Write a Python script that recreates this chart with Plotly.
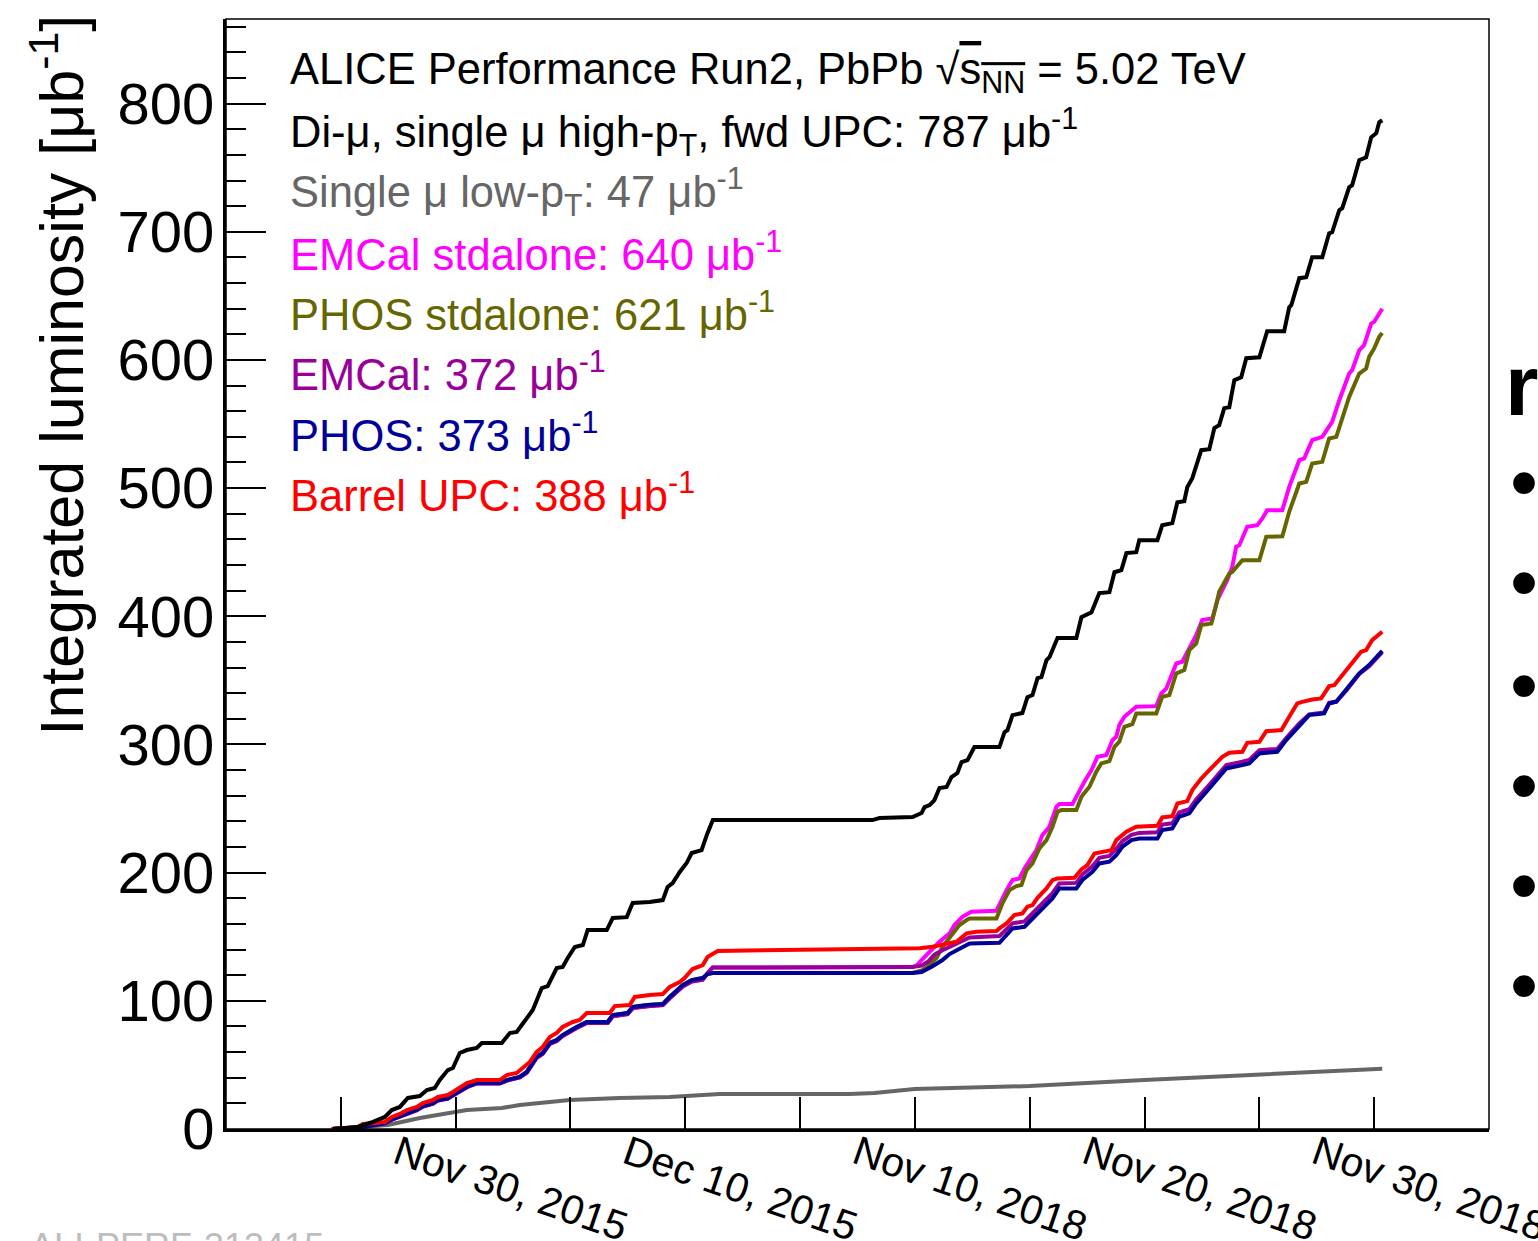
import plotly.graph_objects as go

# ---------------- data (x = run-day on the stitched time axis, y = integrated luminosity in ub^-1)
tick_days = [0, 5, 10, 15, 20, 25, 30, 35, 40, 45, 50, 55]
tick_text = ["", "", "Nov 30, 2015", "", "Dec 10, 2015", "", "Nov 10, 2018", "",
             "Nov 20, 2018", "", "Nov 30, 2018", ""]
y_ticks = [0, 100, 200, 300, 400, 500, 600, 700, 800]

dimu_day = [4.66, 5.74, 6.40, 6.92, 7.22, 7.57, 7.92, 8.44, 8.75, 9.09, 9.31, 9.66, 9.88, 10.18, 10.49,
            10.92, 11.14, 12.01, 12.36, 12.66, 12.88, 13.14, 13.36, 13.75, 14.01, 14.40, 14.66, 14.88,
            15.19, 15.54, 15.75, 16.58, 16.84, 17.45, 17.71, 18.45, 19.02, 19.23, 19.45, 19.76, 20.06,
            20.28, 20.71, 20.95, 21.20,
            27.59, 28.15, 28.46, 29.33, 29.90, 30.29, 30.42, 30.64, 30.85, 31.07, 31.38, 31.59, 31.85,
            32.03, 32.29, 32.59, 33.68, 33.90, 34.03, 34.25, 34.68, 34.90, 35.12, 35.34, 35.51, 35.73,
            35.86, 36.21, 37.03, 37.25, 37.69, 38.03, 38.47, 38.69, 38.99, 39.21, 39.64, 39.77, 40.56,
            40.77, 41.21, 41.43, 41.73, 41.86, 42.08, 42.47, 42.82, 43.04, 43.25, 43.47, 43.69, 43.91,
            44.21, 44.43, 45.00, 45.34, 46.08, 46.30, 46.39, 46.74, 47.04, 47.30, 47.74, 48.04, 48.17,
            48.48, 48.61, 48.91, 49.04, 49.35, 49.65, 49.87, 50.09, 50.22, 50.35]
dimu_lumi = [0, 1.6, 5.5, 9.4, 14.8, 17.2, 24.2, 25.7, 30.4, 32.0, 38.2, 46.0, 47.6, 59.3, 61.6,
             63.2, 67.1, 67.1, 74.9, 75.7, 81.1, 87.4, 92.8, 110.0, 111.5, 125.6, 126.4, 133.4,
             142.0, 143.5, 155.2, 155.2, 164.6, 165.3, 176.3, 177.1, 178.6, 188.8, 191.9, 200.5, 207.5,
             215.3, 217.6, 230.0, 241.0,
             241.0, 241.0, 242.6, 243.4, 243.4, 246.5, 251.2, 252.7, 256.6, 266.0, 266.8, 274.5, 277.7,
             286.2, 287.8, 298.0, 298.0, 309.6, 311.2, 322.9, 324.5, 336.9, 338.5, 351.8, 352.5, 365.8,
             368.1, 383.0, 383.0, 399.3, 403.2, 418.1, 418.8, 434.4, 436.0, 449.3, 450.0, 459.4, 459.4,
             471.1, 472.7, 489.0, 489.8, 500.7, 507.8, 529.6, 530.4, 546.8, 549.1, 562.4, 563.1, 584.2,
             586.5, 601.4, 602.1, 622.4, 622.4, 641.1, 642.7, 663.8, 664.5, 680.1, 680.1, 698.8, 699.6,
             716.8, 718.4, 734.7, 736.3, 755.8, 758.1, 773.7, 776.9, 785.4, 787.0]

mulow_day = [4.66, 7.05, 8.44, 9.88, 10.49, 12.01, 12.79, 14.97, 17.15, 19.32, 21.50, 27.15, 28.24,
             29.98, 34.99, 39.99, 45.00, 47.48, 50.35]
mulow_lumi = [0, 3.1, 8.6, 12.5, 14.8, 16.4, 18.7, 22.6, 24.2, 25.0, 27.3, 27.3, 28.1,
              31.2, 33.5, 38.2, 42.1, 44.5, 47.0]

upc_day = [4.61, 5.74, 5.96, 6.48, 6.92, 7.22, 7.57, 7.88, 8.31, 8.57, 9.01, 9.23, 9.66, 9.88, 10.18,
           10.49, 10.92, 11.92, 12.23, 12.66, 12.92, 13.23, 13.53, 13.79, 14.10, 14.40, 14.66, 15.10,
           15.40, 15.71, 16.71, 16.93, 17.58, 17.80, 18.45, 19.02, 19.32, 19.76, 19.97, 20.32, 20.76,
           20.97, 21.41,
           29.33, 30.20, 30.77, 31.20, 31.81, 32.25, 32.68, 33.55, 33.68, 33.99, 34.33, 34.68, 34.90,
           35.12, 35.34, 35.73, 35.99, 36.21, 36.95, 37.25, 37.51, 37.82, 38.12, 38.56, 38.77, 39.21,
           39.64, 40.56, 40.77, 41.21, 41.43, 41.86, 42.08, 42.47, 42.82, 43.12, 43.39, 43.69, 44.26,
           44.47, 45.00, 45.30, 45.96, 46.30, 46.65, 46.87, 47.30, 47.69, 48.04, 48.26, 48.56, 49.04,
           49.43, 49.65, 49.91, 50.35]
upc_lumi = [0, 1.6, 3.9, 4.7, 5.5, 9.4, 11.7, 14.8, 17.2, 20.3, 22.6, 25.0, 26.5, 28.9, 32.8,
            35.9, 38.2, 38.2, 42.1, 43.7, 47.6, 52.3, 60.1, 64.0, 71.8, 74.9, 79.6, 83.5,
            85.0, 90.5, 90.5, 95.9, 96.7, 103.0, 104.5, 105.3, 110.8, 114.7, 117.8, 124.8, 127.9,
            134.2, 138.9,
            140.2, 141.0, 142.2, 143.6, 146.1, 152.6, 153.9, 154.4, 156.5, 160.4, 166.9, 168.2, 173.4,
            174.7, 180.4, 187.7, 194.2, 195.5, 196.0, 202.5, 205.9, 215.0, 216.3, 217.6, 225.4, 231.9,
            235.8, 236.6, 243.1, 244.1, 254.0, 255.8, 264.4, 273.5, 280.0, 285.2, 290.4, 293.5, 294.3,
            301.3, 302.1, 310.4, 311.2, 321.6, 332.0, 333.2, 335.1, 335.9, 345.5, 346.3, 352.8, 363.2,
            372.3, 373.6, 381.4, 388.0]

# 2015 part shared by calorimeter triggers
calo2015_day = [4.61, 5.74, 6.48, 6.92, 7.22, 7.57, 7.88, 8.31, 8.57, 9.01, 9.23, 9.66, 9.88, 10.18,
                10.49, 10.92, 11.92, 12.23, 12.79, 13.10, 13.53, 13.79, 14.10, 14.40, 14.66, 15.27,
                15.71, 16.62, 16.84, 17.49, 17.71, 18.36, 19.02, 19.32, 19.67, 19.89, 20.28, 20.76,
                20.97, 21.19]
phos2015_lumi = [0, 1.2, 3.0, 4.5, 7.5, 9.8, 12.5, 15.0, 17.8, 20.0, 22.6, 24.0, 26.5, 30.0,
                 33.0, 35.9, 35.9, 38.2, 40.6, 44.5, 56.2, 59.3, 67.1, 69.4, 73.3, 79.6,
                 83.5, 83.5, 88.9, 90.5, 95.2, 96.7, 97.5, 103.0, 108.4, 112.3, 116.2, 117.8,
                 120.9, 121.7]
emcal2015_lumi = [0, 1.2, 3.0, 4.5, 7.3, 9.5, 12.2, 14.7, 17.5, 19.7, 22.3, 23.7, 26.2, 29.6,
                  32.6, 35.5, 35.5, 37.8, 40.2, 44.0, 55.6, 58.7, 66.4, 68.7, 72.6, 78.8,
                  82.7, 82.7, 88.0, 89.6, 94.3, 95.8, 96.6, 102.0, 107.3, 111.2, 115.0, 116.6,
                  121.5, 126.0]

phos2018_day = [29.90, 30.29, 30.73, 31.20, 31.51, 31.94, 32.38, 33.68, 33.99, 34.25, 34.77, 35.12,
                35.55, 35.99, 36.29, 37.03, 37.29, 37.73, 38.03, 38.47, 38.77, 39.03, 39.43, 39.77,
                40.56, 40.77, 41.21, 41.51, 41.95, 42.25, 42.82, 43.25, 43.56, 44.26, 44.56, 45.00,
                45.78, 46.17, 46.74, 47.17, 47.82, 48.04, 48.35, 48.78, 49.35, 49.78, 50.35]
phos2018_lumi = [121.7, 122.5, 126.6, 131.8, 136.5, 140.9, 144.8, 145.3, 151.3, 156.5, 157.8, 164.3,
                 172.1, 179.9, 187.7, 187.7, 194.2, 200.7, 207.2, 208.5, 213.7, 220.2, 225.4, 226.7,
                 226.7, 233.2, 234.5, 243.6, 246.2, 254.0, 265.7, 274.8, 281.3, 283.9, 285.2, 293.0,
                 294.3, 303.4, 315.1, 322.9, 324.2, 332.0, 333.3, 342.4, 355.4, 361.9, 373.0]

emcal2018_day = [29.90, 30.29, 30.60, 30.85, 31.20, 31.51, 31.94, 32.38, 33.68, 33.99, 34.25, 34.77,
                 35.12, 35.55, 35.99, 36.29, 37.03, 37.29, 37.73, 38.03, 38.47, 38.77, 39.03, 39.43,
                 39.77, 40.56, 40.77, 41.21, 41.51, 41.95, 42.25, 42.82, 43.25, 43.56, 44.26, 44.56,
                 45.00, 45.78, 46.17, 46.74, 47.17, 47.82, 48.04, 48.35, 48.78, 49.35, 49.78, 50.35]
emcal2018_lumi = [126.3, 127.5, 131.0, 136.0, 139.5, 142.0, 146.0, 149.5, 150.5, 155.5, 160.5, 162.0,
                  168.5, 176.5, 184.0, 191.5, 192.0, 198.5, 205.0, 211.5, 213.0, 218.5, 224.5, 229.5,
                  231.0, 231.5, 237.5, 238.5, 247.0, 249.5, 257.0, 268.5, 277.5, 284.0, 286.5, 288.0,
                  295.5, 296.5, 305.0, 316.5, 323.5, 325.0, 332.5, 333.5, 342.0, 355.0, 361.0, 372.0]

emcalsa2018_day = [29.90, 30.10, 30.33, 30.60, 31.07, 31.51, 31.72, 32.07, 32.46, 33.55, 33.77, 33.99,
                   34.25, 34.55, 34.77, 34.99, 35.29, 35.55, 35.86, 36.16, 36.29, 36.86, 37.16, 37.38,
                   37.69, 37.95, 38.34, 38.60, 38.77, 38.90, 39.12, 39.64, 40.51, 40.73, 40.95, 41.38,
                   41.64, 41.95, 42.25, 42.51, 42.95, 43.17, 43.60, 43.82, 43.99, 44.13, 44.47, 44.91,
                   45.13, 45.34, 46.00, 46.30, 46.74, 46.95, 47.30, 47.74, 47.95, 48.17, 48.48, 48.91,
                   49.04, 49.35, 49.56, 49.87, 50.00, 50.35]
emcalsa2018_lumi = [126.3, 128.0, 132.6, 137.5, 146.1, 152.6, 159.1, 165.6, 169.5, 170.3, 178.6, 186.4,
                    194.2, 195.5, 203.3, 209.8, 217.6, 229.3, 235.8, 251.4, 253.5, 253.5, 264.4, 270.9,
                    280.0, 290.4, 291.7, 303.4, 306.0, 315.1, 321.6, 329.4, 329.9, 339.8, 343.7, 363.2,
                    364.5, 375.6, 385.3, 397.0, 398.3, 412.6, 428.2, 438.6, 454.2, 455.5, 469.8, 471.1,
                    476.3, 482.8, 482.8, 501.0, 521.8, 523.1, 537.4, 540.0, 545.2, 551.7, 568.6, 589.4,
                    592.0, 607.6, 611.5, 628.4, 629.7, 640.0]

phossa2018_day = [29.90, 30.33, 30.60, 30.94, 31.20, 31.94, 32.25, 32.38, 33.55, 33.81, 34.12, 34.42,
                  34.64, 34.86, 35.12, 35.42, 35.73, 35.99, 36.21, 36.38, 37.03, 37.25, 37.60, 37.90,
                  38.12, 38.47, 38.69, 38.90, 39.12, 39.47, 39.64, 40.51, 40.77, 41.08, 41.38, 41.73,
                  41.95, 42.25, 42.47, 42.91, 43.12, 43.25, 43.69, 43.82, 44.26, 45.00, 45.30, 46.00,
                  46.30, 46.74, 47.04, 47.30, 47.74, 48.04, 48.35, 48.61, 48.91, 49.35, 49.65, 49.78,
                  50.00, 50.22, 50.35]
phossa2018_lumi = [121.7, 124.0, 127.5, 133.4, 142.2, 159.1, 163.0, 164.3, 164.3, 176.0, 186.4, 189.5,
                   190.3, 202.0, 207.2, 218.9, 225.4, 235.8, 247.5, 248.8, 248.8, 259.2, 267.0, 278.7,
                   285.2, 287.0, 298.2, 302.1, 313.8, 315.9, 324.2, 324.2, 337.2, 338.5, 355.4, 358.0,
                   373.6, 378.8, 393.1, 394.4, 408.7, 419.1, 433.4, 434.7, 443.8, 443.8, 462.0, 462.5,
                   481.5, 503.6, 504.9, 519.2, 520.5, 538.7, 540.0, 555.6, 571.2, 589.4, 593.3, 602.4,
                   609.0, 618.0, 621.0]

legend_lines = [
    ("ALICE Performance Run2, PbPb √<span style='text-decoration:overline'>s<sub>NN</sub></span> = 5.02 TeV", "#000000"),
    ("Di-μ, single μ high-p<sub>T</sub>, fwd UPC: 787 μb<sup>-1</sup>", "#000000"),
    ("Single μ low-p<sub>T</sub>: 47 μb<sup>-1</sup>", "#666666"),
    ("EMCal stdalone: 640 μb<sup>-1</sup>", "#ff00ff"),
    ("PHOS stdalone: 621 μb<sup>-1</sup>", "#666600"),
    ("EMCal: 372 μb<sup>-1</sup>", "#990099"),
    ("PHOS: 373 μb<sup>-1</sup>", "#000099"),
    ("Barrel UPC: 388 μb<sup>-1</sup>", "#ff0000"),
]

# ---------------- figure
W, H = 1538, 1241
ML, MR, MT, MB = 226, 49, 19, 112
PW, PH = W - ML - MR, H - MT - MB


def px_to_paper_x(px):
    return (px - ML) / PW


def px_to_paper_y(py):
    return (H - MB - py) / PH


series = [
    (mulow_day, mulow_lumi, "#666666"),
    (calo2015_day + emcalsa2018_day, emcal2015_lumi + emcalsa2018_lumi, "#ff00ff"),
    (calo2015_day + phossa2018_day, phos2015_lumi + phossa2018_lumi, "#666600"),
    (calo2015_day + emcal2018_day, emcal2015_lumi + emcal2018_lumi, "#990099"),
    (calo2015_day + phos2018_day, phos2015_lumi + phos2018_lumi, "#000099"),
    (upc_day, upc_lumi, "#ff0000"),
    (dimu_day, dimu_lumi, "#000000"),
]

fig = go.Figure()
for xs, ys, col in series:
    fig.add_trace(go.Scatter(x=xs, y=ys, mode="lines", line=dict(color=col, width=4),
                             showlegend=False, hoverinfo="skip"))

FONT = "Liberation Sans, Arial, Helvetica, sans-serif"

fig.update_layout(
    width=W, height=H,
    margin=dict(l=ML, r=MR, t=MT, b=MB, pad=0, autoexpand=False),
    paper_bgcolor="white", plot_bgcolor="white",
    font=dict(family=FONT, color="black"),
    showlegend=False,
    xaxis=dict(
        range=[0, 55], tickmode="array", tickvals=tick_days, ticktext=tick_text,
        ticks="inside", ticklen=32, tickwidth=2, tickcolor="black",
        showline=True, linewidth=3, linecolor="black",
        showgrid=False, zeroline=False, automargin=False,
        tickangle=19, tickfont=dict(size=41, family=FONT, color="black"),
        ticklabelshift=-58, ticklabelstandoff=-18, ticklabeloverflow="allow",
    ),
    yaxis=dict(
        range=[0, 866], tickmode="array", tickvals=y_ticks,
        ticks="inside", ticklen=40, tickwidth=2, tickcolor="black",
        minor=dict(dtick=20, tick0=0, ticks="inside", ticklen=20, tickwidth=2, tickcolor="black"),
        showline=True, linewidth=3, linecolor="black",
        showgrid=False, zeroline=False, automargin=False,
        tickfont=dict(size=58, family=FONT, color="black"),
        ticklabelstandoff=-3,
    ),
)

# thin frame on top/right
fig.add_shape(type="rect", xref="paper", yref="paper", x0=0, x1=1, y0=0, y1=1,
              line=dict(color="black", width=1.5), layer="above")

ann = []
for i, (txt, col) in enumerate(legend_lines):
    ann.append(dict(text=txt, x=px_to_paper_x(288), y=px_to_paper_y(72 + 60 * i),
                    xref="paper", yref="paper", xanchor="left", yanchor="middle",
                    showarrow=False, font=dict(size=43.5, color=col, family=FONT)))

ann.append(dict(text="Integrated luminosity [μb<sup>-1</sup>]", textangle=-90,
                x=px_to_paper_x(57), y=px_to_paper_y(13), xref="paper", yref="paper",
                xanchor="center", yanchor="top", showarrow=False,
                font=dict(size=61, color="black", family=FONT)))

ann.append(dict(text="ALI-PERF-313415", x=px_to_paper_x(28), y=px_to_paper_y(1224),
                xref="paper", yref="paper", xanchor="left", yanchor="top", showarrow=False,
                font=dict(size=36, color="#bdbdbd", family=FONT)))

ann.append(dict(text="<b>r</b>", x=px_to_paper_x(1503), y=px_to_paper_y(385),
                xref="paper", yref="paper", xanchor="left", yanchor="middle", showarrow=False,
                font=dict(size=86, color="black", family=FONT)))
for yb in [483, 583, 685, 785, 885, 985]:
    ann.append(dict(text="•", x=px_to_paper_x(1508), y=px_to_paper_y(yb),
                    xref="paper", yref="paper", xanchor="left", yanchor="middle", showarrow=False,
                    font=dict(size=80, color="black", family=FONT)))

fig.update_layout(annotations=ann)

fig.write_html("out.html")
